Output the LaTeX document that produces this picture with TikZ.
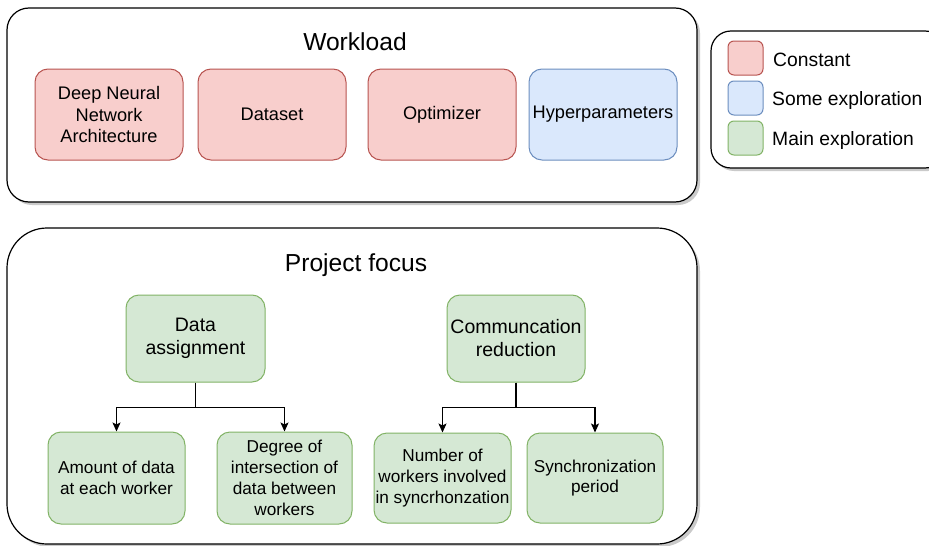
\documentclass[tikz,border=0pt]{standalone}
\usepackage{fontspec}
\setmainfont{Liberation Sans}
\usetikzlibrary{arrows.meta,shadows}
\definecolor{redfill}{HTML}{F8CECC}
\definecolor{redline}{HTML}{B85450}
\definecolor{bluefill}{HTML}{DAE8FC}
\definecolor{blueline}{HTML}{6C8EBF}
\definecolor{greenfill}{HTML}{D5E8D4}
\definecolor{greenline}{HTML}{82B366}
\tikzset{
  panel/.style={draw=black, line width=1.2pt, fill=white,
    drop shadow={shadow xshift=3pt, shadow yshift=-3pt, fill=gray!70, opacity=0.6}},
  item/.style={rectangle, rounded corners=13pt, line width=1pt, align=center,
    inner sep=0pt, font=\fontsize{18.2}{21.5}\selectfont},
  constbox/.style={item, draw=redline, fill=redfill, minimum width=148pt, minimum height=91pt},
  explbox/.style={item, draw=blueline, fill=bluefill, minimum width=148pt, minimum height=91pt},
  mainbox/.style={item, draw=greenline, fill=greenfill},
  headbox/.style={mainbox, font=\fontsize{19.5}{23}\selectfont},
  leafbox/.style={mainbox, font=\fontsize{17.2}{20.8}\selectfont},
  swatch/.style={rectangle, rounded corners=6pt, line width=1pt, minimum width=35pt, minimum height=34pt, inner sep=0pt},
  title/.style={font=\fontsize{24.6}{28}\selectfont, inner sep=0pt},
  legtext/.style={anchor=west, font=\fontsize{19.3}{22}\selectfont, inner sep=0pt},
  arr/.style={line width=1.2pt, -{Stealth[length=9pt,width=8pt,inset=2pt]}}
}
\begin{document}
\begin{tikzpicture}[x=1pt,y=-1pt]
\useasboundingbox (0,0) rectangle (929,546);

% outer panels
\draw[panel, rounded corners=22pt] (7,8) rectangle (697,202);
\draw[panel, rounded corners=40pt] (7,228) rectangle (697,544);
\draw[panel, rounded corners=20pt] (711,31) rectangle (945,168);

% workload
\node[title] (wl) at (355,42) {Workload};
\node[constbox] (dnn) at (109,114.5) {Deep Neural\\Network\\Architecture};
\node[constbox] (ds) at (272,114.5) {Dataset};
\node[constbox] (opt) at (442,114.5) {Optimizer};
\node[explbox] (hp) at (603,114.5) {Hyperparameters};

% legend
\node[swatch, draw=redline, fill=redfill] (s1) at (745.5,58) {};
\node[swatch, draw=blueline, fill=bluefill] (s2) at (745.5,98) {};
\node[swatch, draw=greenline, fill=greenfill] (s3) at (745.5,138) {};
\node[legtext] (l1) at (773,59.5) {Constant};
\node[legtext] (l2) at (772,100.5) {Some exploration};
\node[legtext] (l3) at (772,140.5) {Main exploration};

% project focus
\node[title] (pf) at (356,265) {Project focus};
\node[headbox, minimum width=139pt, minimum height=87pt] (da) at (195.5,338.5) {Data\\assignment};
\node[headbox, minimum width=138pt, minimum height=87pt] (cr) at (516,338.5) {Communcation\\reduction};
\node[leafbox, minimum width=137pt, minimum height=92pt] (amt) at (116.5,478) {Amount of data\\at each worker};
\node[leafbox, minimum width=135pt, minimum height=92pt] (deg) at (284.5,478) {Degree of\\intersection of\\data between\\workers};
\node[leafbox, minimum width=137pt, minimum height=90pt] (num) at (442.5,478) {Number of\\workers involved\\in syncrhonzation};
\node[leafbox, minimum width=136pt, minimum height=90pt] (syn) at (595,478) {Synchronization\\period};

% connectors
\draw[arr] (da.south) -- ++(0,25) -| (amt.north);
\draw[arr] (da.south) -- ++(0,25) -| (deg.north);
\draw[arr] (cr.south) -- ++(0,25) -| (num.north);
\draw[arr] (cr.south) -- ++(0,25) -| (syn.north);
\end{tikzpicture}
\end{document}
